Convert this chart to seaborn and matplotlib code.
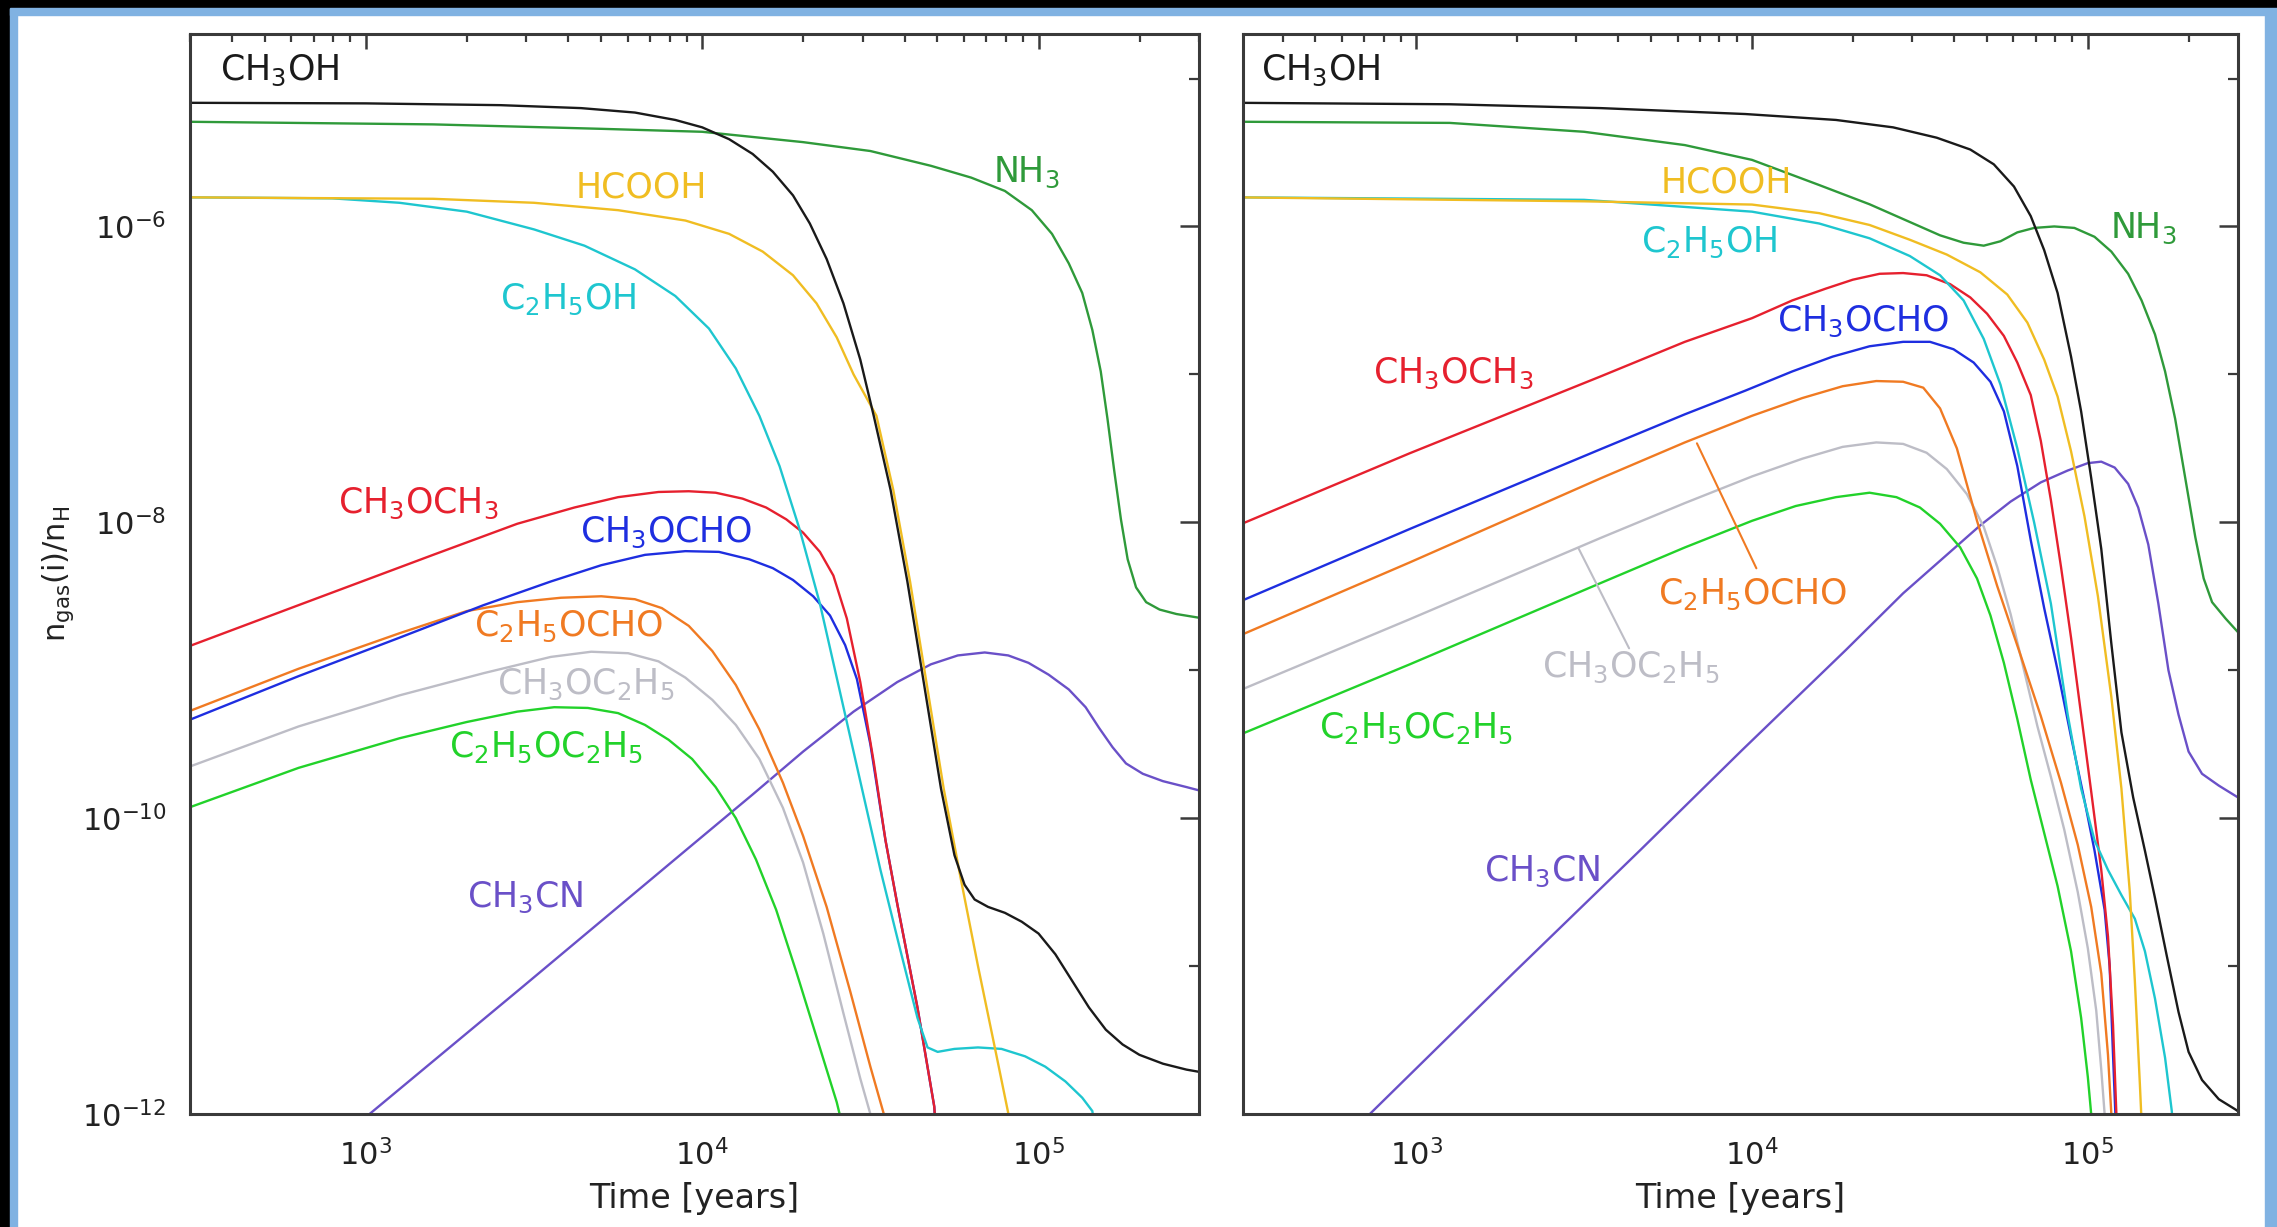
import numpy as np
import pandas as pd
import matplotlib
matplotlib.use("Agg")
import matplotlib.pyplot as plt
from matplotlib.patches import Rectangle
from matplotlib.ticker import FixedLocator, NullFormatter, LogLocator, LogFormatterSciNotation
import seaborn as sns

# ------------------------------------------------------------------
# Data: log10(time / yr) and log10(n_gas(i)/n_H)
# ------------------------------------------------------------------
SPECIES = ["CH3CN", "C2H5OC2H5", "CH3OC2H5", "C2H5OCHO", "CH3OCHO",
           "CH3OCH3", "C2H5OH", "HCOOH", "NH3", "CH3OH"]
COLORS = {"CH3OH": "#1a1a1a", "NH3": "#2f9a3a", "HCOOH": "#f0bd22",
          "C2H5OH": "#1ec6cf", "CH3OCH3": "#e6202e", "CH3OCHO": "#1e2ee0",
          "C2H5OCHO": "#f07a22", "CH3OC2H5": "#bdbdc6", "C2H5OC2H5": "#22d22a",
          "CH3CN": "#6a50c8"}
LABELS = {"CH3OH": r"CH$_3$OH", "NH3": r"NH$_3$", "HCOOH": "HCOOH",
          "C2H5OH": r"C$_2$H$_5$OH", "CH3OCH3": r"CH$_3$OCH$_3$",
          "CH3OCHO": r"CH$_3$OCHO", "C2H5OCHO": r"C$_2$H$_5$OCHO",
          "CH3OC2H5": r"CH$_3$OC$_2$H$_5$", "C2H5OC2H5": r"C$_2$H$_5$OC$_2$H$_5$",
          "CH3CN": r"CH$_3$CN"}

# ---- left panel ----
L_CH3OH_logt = [2.46, 3.0, 3.4, 3.64, 3.80, 3.92, 4.00, 4.08, 4.15, 4.21, 4.27, 4.32, 4.37, 4.42, 4.47, 4.51, 4.56, 4.61, 4.66, 4.71, 4.75, 4.78, 4.81, 4.85, 4.90, 4.95, 5.00, 5.05, 5.10, 5.15, 5.20, 5.25, 5.30, 5.37, 5.44, 5.49]
L_CH3OH_logn = [-5.164, -5.168, -5.18, -5.20, -5.23, -5.28, -5.33, -5.41, -5.51, -5.63, -5.79, -5.98, -6.22, -6.52, -6.90, -7.28, -7.78, -8.40, -9.10, -9.80, -10.25, -10.45, -10.55, -10.60, -10.64, -10.70, -10.78, -10.92, -11.10, -11.28, -11.43, -11.53, -11.60, -11.66, -11.70, -11.72]
L_HCOOH_logt = [2.46, 3.2, 3.5, 3.75, 3.95, 4.08, 4.18, 4.27, 4.34, 4.40, 4.45, 4.518, 4.568, 4.618, 4.668, 4.718, 4.768, 4.82, 4.87, 4.915, 4.94]
L_HCOOH_logn = [-5.803, -5.813, -5.84, -5.89, -5.96, -6.05, -6.17, -6.33, -6.52, -6.75, -7.00, -7.28, -7.78, -8.40, -9.10, -9.80, -10.40, -11.00, -11.55, -12.05, -12.35]
L_NH3_logt = [2.46, 3.2, 3.7, 4.0, 4.3, 4.5, 4.68, 4.80, 4.90, 4.98, 5.04, 5.09, 5.13, 5.16, 5.185, 5.205, 5.225, 5.245, 5.265, 5.29, 5.32, 5.36, 5.41, 5.49]
L_NH3_logn = [-5.292, -5.31, -5.34, -5.36, -5.43, -5.49, -5.59, -5.67, -5.76, -5.89, -6.05, -6.25, -6.45, -6.70, -6.98, -7.30, -7.65, -7.98, -8.25, -8.44, -8.54, -8.59, -8.62, -8.65]
L_C2H5OH_logt = [2.46, 2.9, 3.1, 3.3, 3.5, 3.65, 3.80, 3.92, 4.02, 4.10, 4.17, 4.23, 4.29, 4.35, 4.41, 4.47, 4.53, 4.59, 4.64, 4.67, 4.70, 4.75, 4.82, 4.89, 4.96, 5.02, 5.08, 5.13, 5.16, 5.18]
L_C2H5OH_logn = [-5.803, -5.81, -5.84, -5.90, -6.02, -6.13, -6.29, -6.47, -6.69, -6.96, -7.28, -7.62, -8.05, -8.55, -9.15, -9.75, -10.35, -10.90, -11.35, -11.55, -11.58, -11.56, -11.55, -11.56, -11.61, -11.68, -11.78, -11.89, -11.98, -12.3]
L_CH3OCH3_logt = [2.46, 2.8, 3.2, 3.45, 3.62, 3.75, 3.87, 3.96, 4.04, 4.12, 4.19, 4.25, 4.30, 4.35, 4.39, 4.43, 4.47, 4.51, 4.545, 4.58, 4.64, 4.69, 4.70]
L_CH3OCH3_logn = [-8.85, -8.56, -8.22, -8.01, -7.90, -7.83, -7.795, -7.79, -7.80, -7.84, -7.90, -7.98, -8.07, -8.20, -8.36, -8.65, -9.08, -9.62, -10.15, -10.58, -11.28, -11.95, -12.3]
L_CH3OCHO_logt = [2.46, 2.8, 3.1, 3.35, 3.55, 3.70, 3.83, 3.95, 4.05, 4.14, 4.21, 4.27, 4.33, 4.38, 4.425, 4.46, 4.50, 4.545, 4.58, 4.64, 4.69, 4.70]
L_CH3OCHO_logn = [-9.35, -9.04, -8.78, -8.56, -8.40, -8.29, -8.22, -8.195, -8.20, -8.25, -8.31, -8.39, -8.50, -8.63, -8.83, -9.06, -9.50, -10.15, -10.58, -11.28, -11.95, -12.3]
L_C2H5OCHO_logt = [2.46, 2.8, 3.1, 3.3, 3.45, 3.58, 3.70, 3.80, 3.88, 3.96, 4.03, 4.10, 4.17, 4.24, 4.30, 4.37, 4.44, 4.50, 4.54, 4.56]
L_C2H5OCHO_logn = [-9.29, -8.99, -8.75, -8.60, -8.54, -8.51, -8.50, -8.52, -8.58, -8.70, -8.87, -9.10, -9.40, -9.76, -10.12, -10.60, -11.17, -11.68, -12.0, -12.3]
L_CH3OC2H5_logt = [2.46, 2.8, 3.1, 3.35, 3.55, 3.67, 3.78, 3.87, 3.95, 4.03, 4.10, 4.17, 4.24, 4.30, 4.36, 4.42, 4.47, 4.50, 4.52]
L_CH3OC2H5_logn = [-9.665, -9.38, -9.17, -9.02, -8.91, -8.875, -8.885, -8.94, -9.05, -9.20, -9.37, -9.60, -9.93, -10.30, -10.78, -11.32, -11.76, -12.0, -12.2]
L_C2H5OC2H5_logt = [2.46, 2.8, 3.1, 3.3, 3.45, 3.56, 3.66, 3.75, 3.83, 3.90, 3.97, 4.04, 4.10, 4.16, 4.22, 4.28, 4.34, 4.40, 4.43]
L_C2H5OC2H5_logn = [-9.94, -9.66, -9.46, -9.35, -9.28, -9.25, -9.255, -9.29, -9.37, -9.47, -9.60, -9.79, -10.00, -10.28, -10.62, -11.04, -11.48, -11.92, -12.2]
L_CH3CN_logt = [2.90, 3.011, 3.464, 3.955, 4.15, 4.30, 4.45, 4.58, 4.68, 4.76, 4.84, 4.91, 4.97, 5.03, 5.09, 5.14, 5.18, 5.22, 5.26, 5.31, 5.37, 5.44, 5.49]
L_CH3CN_logn = [-12.2, -12.0, -11.144, -10.21, -9.84, -9.55, -9.28, -9.08, -8.96, -8.90, -8.88, -8.90, -8.95, -9.03, -9.13, -9.25, -9.39, -9.52, -9.63, -9.70, -9.75, -9.79, -9.82]

# ---- right panel ----
R_CH3OH_logt = [2.46, 3.1, 3.55, 3.98, 4.25, 4.42, 4.55, 4.65, 4.72, 4.78, 4.83, 4.87, 4.91, 4.95, 4.98, 5.01, 5.04, 5.07, 5.10, 5.135, 5.17, 5.20, 5.235, 5.27, 5.30, 5.34, 5.39, 5.44, 5.49]
R_CH3OH_logn = [-5.164, -5.174, -5.20, -5.24, -5.28, -5.33, -5.40, -5.48, -5.58, -5.73, -5.93, -6.16, -6.45, -6.88, -7.25, -7.70, -8.18, -8.82, -9.42, -9.86, -10.22, -10.54, -10.93, -11.31, -11.58, -11.77, -11.90, -11.97, -12.05]
R_NH3_logt = [2.46, 3.1, 3.5, 3.8, 4.0, 4.2, 4.35, 4.47, 4.56, 4.63, 4.69, 4.74, 4.79, 4.84, 4.90, 4.96, 5.02, 5.07, 5.12, 5.16, 5.20, 5.23, 5.26, 5.29, 5.32, 5.345, 5.37, 5.41, 5.45, 5.49]
R_NH3_logn = [-5.292, -5.30, -5.36, -5.45, -5.55, -5.72, -5.85, -5.97, -6.06, -6.11, -6.13, -6.10, -6.04, -6.01, -6.00, -6.01, -6.07, -6.17, -6.32, -6.50, -6.73, -6.98, -7.30, -7.70, -8.10, -8.38, -8.54, -8.65, -8.75, -8.84]
R_HCOOH_logt = [2.46, 3.5, 4.0, 4.2, 4.35, 4.47, 4.58, 4.68, 4.76, 4.82, 4.87, 4.91, 4.95, 4.99, 5.03, 5.07, 5.10, 5.125, 5.14, 5.155, 5.165]
R_HCOOH_logn = [-5.803, -5.83, -5.852, -5.91, -5.99, -6.09, -6.19, -6.31, -6.46, -6.65, -6.90, -7.15, -7.52, -7.96, -8.50, -9.18, -9.80, -10.50, -11.10, -11.80, -12.3]
R_C2H5OH_logt = [2.46, 3.5, 4.0, 4.2, 4.35, 4.47, 4.56, 4.63, 4.69, 4.74, 4.79, 4.84, 4.89, 4.94, 4.98, 5.02, 5.06, 5.10, 5.14, 5.17, 5.20, 5.23, 5.25, 5.26]
R_C2H5OH_logn = [-5.803, -5.82, -5.90, -5.98, -6.08, -6.20, -6.33, -6.50, -6.76, -7.07, -7.50, -8.00, -8.55, -9.30, -9.80, -10.15, -10.35, -10.52, -10.68, -10.90, -11.22, -11.62, -11.98, -12.3]
R_CH3OCH3_logt = [2.46, 2.98, 3.55, 3.80, 4.0, 4.12, 4.22, 4.30, 4.38, 4.45, 4.52, 4.59, 4.65, 4.70, 4.75, 4.79, 4.83, 4.86, 4.89, 4.92, 4.95, 4.98, 5.01, 5.04, 5.06, 5.075, 5.085, 5.09]
R_CH3OCH3_logn = [-8.03, -7.534, -7.013, -6.78, -6.62, -6.50, -6.42, -6.36, -6.32, -6.315, -6.33, -6.39, -6.48, -6.59, -6.74, -6.92, -7.14, -7.45, -7.85, -8.30, -8.78, -9.30, -9.82, -10.35, -10.80, -11.40, -12.0, -12.3]
R_CH3OCHO_logt = [2.46, 2.98, 3.55, 3.80, 3.98, 4.12, 4.24, 4.35, 4.45, 4.53, 4.60, 4.66, 4.71, 4.75, 4.79, 4.83, 4.87, 4.91, 4.95, 4.99, 5.02, 5.05, 5.065, 5.075, 5.082, 5.09]
R_CH3OCHO_logn = [-8.55, -8.046, -7.505, -7.27, -7.11, -6.98, -6.88, -6.81, -6.78, -6.78, -6.83, -6.92, -7.05, -7.25, -7.62, -8.12, -8.58, -9.00, -9.45, -9.88, -10.22, -10.62, -11.00, -11.60, -12.0, -12.3]
R_C2H5OCHO_logt = [2.46, 2.98, 3.55, 3.80, 4.0, 4.15, 4.27, 4.37, 4.45, 4.51, 4.56, 4.61, 4.67, 4.73, 4.80, 4.86, 4.92, 4.97, 5.01, 5.04, 5.06, 5.07, 5.08]
R_C2H5OCHO_logn = [-8.78, -8.272, -7.702, -7.46, -7.28, -7.16, -7.08, -7.045, -7.05, -7.09, -7.23, -7.50, -7.99, -8.43, -8.90, -9.31, -9.76, -10.18, -10.60, -11.05, -11.60, -12.0, -12.3]
R_CH3OC2H5_logt = [2.46, 2.98, 3.55, 3.80, 4.0, 4.15, 4.27, 4.37, 4.45, 4.52, 4.58, 4.64, 4.69, 4.73, 4.77, 4.81, 4.85, 4.89, 4.93, 4.97, 5.00, 5.025, 5.04, 5.05, 5.06]
R_CH3OC2H5_logn = [-9.15, -8.656, -8.105, -7.87, -7.69, -7.57, -7.49, -7.46, -7.47, -7.53, -7.64, -7.81, -8.03, -8.30, -8.62, -9.00, -9.38, -9.72, -10.08, -10.50, -10.88, -11.30, -11.70, -12.0, -12.3]
R_C2H5OC2H5_logt = [2.46, 2.98, 3.55, 3.80, 4.0, 4.13, 4.25, 4.35, 4.43, 4.50, 4.56, 4.62, 4.67, 4.71, 4.75, 4.79, 4.83, 4.87, 4.91, 4.95, 4.98, 5.00, 5.01, 5.02]
R_C2H5OC2H5_logn = [-9.45, -8.961, -8.41, -8.17, -7.99, -7.89, -7.83, -7.80, -7.83, -7.90, -8.01, -8.17, -8.38, -8.63, -8.95, -9.33, -9.74, -10.10, -10.46, -10.90, -11.35, -11.75, -12.0, -12.3]
R_CH3CN_logt = [2.77, 2.862, 3.29, 3.67, 3.97, 4.28, 4.45, 4.58, 4.68, 4.77, 4.86, 4.94, 5.00, 5.04, 5.08, 5.12, 5.15, 5.18, 5.21, 5.24, 5.27, 5.30, 5.34, 5.39, 5.44, 5.49]
R_CH3CN_logn = [-12.2, -12.0, -11.046, -10.21, -9.541, -8.862, -8.48, -8.22, -8.02, -7.86, -7.73, -7.65, -7.60, -7.59, -7.63, -7.74, -7.90, -8.15, -8.55, -9.00, -9.30, -9.55, -9.70, -9.78, -9.85, -9.92]

X_TICKS = [1e3, 1e4, 1e5]
Y_MAJOR = [1e-12, 1e-10, 1e-8, 1e-6]
Y_MINOR = [1e-11, 1e-9, 1e-7, 1e-5]
X_LIM_L = (3.0e2, 3.0e5)
X_LIM_R = (3.05e2, 2.8e5)
Y_LIM = (1e-12, 2.0e-5)

# label anchor positions (log10 t, log10 n), left-aligned, vertically centred
L_LABEL_POS = {"CH3OH": (2.567, -4.948), "NH3": (4.864, -5.636), "HCOOH": (3.623, -5.734),
               "C2H5OH": (3.399, -6.492), "CH3OCH3": (2.916, -7.869), "CH3OCHO": (3.636, -8.066),
               "C2H5OCHO": (3.321, -8.705), "CH3OC2H5": (3.390, -9.098),
               "C2H5OC2H5": (3.248, -9.521), "CH3CN": (3.300, -10.534)}
R_LABEL_POS = {"CH3OH": (2.539, -4.948), "HCOOH": (3.728, -5.705), "NH3": (5.065, -6.010),
               "C2H5OH": (3.668, -6.108), "CH3OCHO": (4.073, -6.639), "CH3OCH3": (2.871, -6.993),
               "C2H5OCHO": (3.720, -8.488), "CH3OC2H5": (3.375, -8.980),
               "C2H5OC2H5": (2.711, -9.393), "CH3CN": (3.203, -10.357)}
# leader lines in the right panel: (curve point, label point)
R_LEADERS = {"C2H5OCHO": ((3.836, -7.466), (4.013, -8.311)),
             "CH3OC2H5": ((3.483, -8.174), (3.634, -8.852))}

LEFT = {"CH3CN": (L_CH3CN_logt, L_CH3CN_logn), "C2H5OC2H5": (L_C2H5OC2H5_logt, L_C2H5OC2H5_logn),
        "CH3OC2H5": (L_CH3OC2H5_logt, L_CH3OC2H5_logn), "C2H5OCHO": (L_C2H5OCHO_logt, L_C2H5OCHO_logn),
        "CH3OCHO": (L_CH3OCHO_logt, L_CH3OCHO_logn), "CH3OCH3": (L_CH3OCH3_logt, L_CH3OCH3_logn),
        "C2H5OH": (L_C2H5OH_logt, L_C2H5OH_logn), "HCOOH": (L_HCOOH_logt, L_HCOOH_logn),
        "NH3": (L_NH3_logt, L_NH3_logn), "CH3OH": (L_CH3OH_logt, L_CH3OH_logn)}
RIGHT = {"CH3CN": (R_CH3CN_logt, R_CH3CN_logn), "C2H5OC2H5": (R_C2H5OC2H5_logt, R_C2H5OC2H5_logn),
         "CH3OC2H5": (R_CH3OC2H5_logt, R_CH3OC2H5_logn), "C2H5OCHO": (R_C2H5OCHO_logt, R_C2H5OCHO_logn),
         "CH3OCHO": (R_CH3OCHO_logt, R_CH3OCHO_logn), "CH3OCH3": (R_CH3OCH3_logt, R_CH3OCH3_logn),
         "C2H5OH": (R_C2H5OH_logt, R_C2H5OH_logn), "HCOOH": (R_HCOOH_logt, R_HCOOH_logn),
         "NH3": (R_NH3_logt, R_NH3_logn), "CH3OH": (R_CH3OH_logt, R_CH3OH_logn)}


def to_frame(curves):
    parts = []
    for sp, (lt, ln) in curves.items():
        parts.append(pd.DataFrame({"species": sp,
                                   "time": np.power(10.0, np.asarray(lt)),
                                   "abundance": np.power(10.0, np.asarray(ln))}))
    return pd.concat(parts, ignore_index=True)


sns.set_theme(style="white")
plt.rcParams["font.family"] = ["DejaVu Sans"]
plt.rcParams["mathtext.default"] = "regular"

W, H = 2277, 1227
fig = plt.figure(figsize=(W / 100, H / 100), dpi=100, facecolor="white")

# decorative frame (black + light blue borders)
BLUE = "#80b2e2"
fig.add_artist(Rectangle((0, 0), 10 / W, 1, transform=fig.transFigure, color="black", zorder=0))
fig.add_artist(Rectangle((10 / W, 0), 7 / W, 1, transform=fig.transFigure, color=BLUE, zorder=0))
fig.add_artist(Rectangle((0, 1 - 8 / H), 1, 8 / H, transform=fig.transFigure, color="black", zorder=0))
fig.add_artist(Rectangle((10 / W, 1 - 15 / H), 1, 7 / H, transform=fig.transFigure, color=BLUE, zorder=0))
fig.add_artist(Rectangle((1 - 12 / W, 0), 12 / W, 1 - 15 / H, transform=fig.transFigure, color=BLUE, zorder=0))

ax_bottom = 113 / H
ax_height = 1080 / H
axL = fig.add_axes([190 / W, ax_bottom, 1009 / W, ax_height])
axR = fig.add_axes([1243 / W, ax_bottom, 995 / W, ax_height])

SPINE = "#3a3a3a"
for ax, curves, lpos, xlim in [(axL, LEFT, L_LABEL_POS, X_LIM_L), (axR, RIGHT, R_LABEL_POS, X_LIM_R)]:
    df = to_frame(curves)
    sns.lineplot(data=df, x="time", y="abundance", hue="species", hue_order=SPECIES,
                 palette=COLORS, estimator=None, sort=False, legend=False, ax=ax,
                 linewidth=1.7)
    ax.set_xscale("log")
    ax.set_yscale("log")
    ax.set_xlim(*xlim)
    ax.set_ylim(*Y_LIM)
    ax.set_facecolor("white")
    for s in ax.spines.values():
        s.set_color(SPINE)
        s.set_linewidth(2.2)
    ax.xaxis.set_major_locator(FixedLocator(X_TICKS))
    ax.xaxis.set_minor_locator(LogLocator(base=10, subs=np.arange(2, 10), numticks=20))
    ax.xaxis.set_major_formatter(LogFormatterSciNotation())
    ax.xaxis.set_minor_formatter(NullFormatter())
    ax.yaxis.set_major_locator(FixedLocator(Y_MAJOR))
    ax.yaxis.set_minor_locator(FixedLocator(Y_MINOR))
    ax.yaxis.set_major_formatter(LogFormatterSciNotation())
    ax.yaxis.set_minor_formatter(NullFormatter())
    ax.tick_params(axis="both", which="both", direction="in", top=True, right=True,
                   color=SPINE, labelsize=22, labelcolor="#222222")
    ax.tick_params(axis="x", which="major", length=11, width=1.8, pad=18)
    ax.tick_params(axis="x", which="minor", length=6, width=1.6)
    ax.tick_params(axis="y", which="major", length=14, width=1.8, pad=17)
    ax.tick_params(axis="y", which="minor", length=7, width=1.6)
    ax.grid(False)
    ax.set_xlabel("Time [years]", fontsize=24, color="#222222", va="center")
    ax.xaxis.set_label_coords(0.5, -0.078)
    for sp, (lx, ly) in lpos.items():
        ax.text(10 ** lx, 10 ** ly, LABELS[sp], color=COLORS[sp], fontsize=25,
                ha="left", va="center")

axR.set_ylabel("")
axR.tick_params(axis="y", which="both", labelleft=False)
axL.set_ylabel(r"n$_{gas}$(i)/n$_H$", fontsize=22, color="#222222", va="center")
axL.yaxis.set_label_coords(-0.131, 0.5)

for sp, ((cx, cy), (tx, ty)) in R_LEADERS.items():
    axR.annotate("", xy=(10 ** cx, 10 ** cy), xytext=(10 ** tx, 10 ** ty),
                 arrowprops=dict(arrowstyle="-", color=COLORS[sp], lw=1.5,
                                 shrinkA=0, shrinkB=0))

fig.savefig("out.png", dpi=100, facecolor=fig.get_facecolor())
